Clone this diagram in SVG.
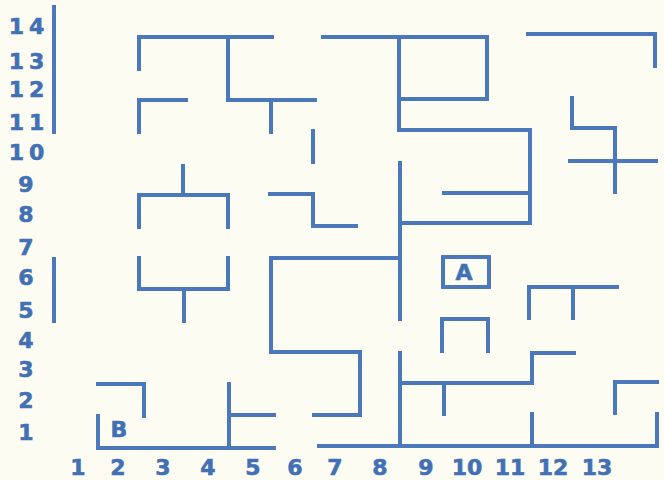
<svg xmlns="http://www.w3.org/2000/svg" width="664" height="480" viewBox="0 0 664 480">
<style>
.w{fill:none;stroke:#4a78ba;stroke-width:4;stroke-linecap:square;stroke-linejoin:miter}
.t{font-family:"DejaVu Sans",sans-serif;font-weight:bold;font-size:22px;fill:#4270b4;stroke:#4270b4;stroke-width:0.6;text-anchor:middle}
</style>
<rect width="664" height="480" fill="#fdfcf3"/>
<g id="walls" class="w">
<path d="M54 7V132"/>
<path d="M54 259V321"/>
<path d="M139 69V37H272M228 37V100H315M271 100V132"/>
<path d="M139 132V100H186"/>
<path d="M313 131V162"/>
<path d="M183 166V195M139 227V195H228V227"/>
<path d="M270 194H313V226H356"/>
<path d="M323 37H487V99H399M399 37V130H530V223H400M444 193H530"/>
<path d="M400 163V319"/>
<path d="M528 34H655V66"/>
<path d="M572 98V128H615V192M570 161H656"/>
<path d="M139 258V289H228V258M184 289V321"/>
<path d="M400 258H271V352H360V415H314"/>
<path d="M442 351V319H488V351"/>
<path d="M529 318V287H617M573 287V318"/>
<path d="M98 384H144V416"/>
<path d="M98 416V448H274M229 384V448M229 415H274"/>
<path d="M319 446H657V414M400 353V446M400 383H532V353H574M444 383V414M532 414V446"/>
<path d="M615 413V382H657"/>
</g>
<g id="A">
<rect class="w" x="443" y="257" width="46" height="30"/>
<text class="t" x="464" y="280">A</text>
</g>
<g id="B">
<text class="t" x="119" y="437">B</text>
</g>
<g id="yaxis" class="t">
<text x="29" y="34" letter-spacing="5">14</text>
<text x="29" y="69" letter-spacing="5">13</text>
<text x="29" y="97" letter-spacing="5">12</text>
<text x="29" y="130" letter-spacing="5">11</text>
<text x="29" y="160" letter-spacing="5">10</text>
<text x="26" y="192">9</text>
<text x="26" y="222">8</text>
<text x="26" y="255">7</text>
<text x="26" y="285">6</text>
<text x="26" y="318">5</text>
<text x="26" y="348">4</text>
<text x="26" y="377">3</text>
<text x="26" y="408">2</text>
<text x="26" y="440">1</text>
</g>
<g id="xaxis" class="t">
<text x="78" y="475">1</text>
<text x="118" y="475">2</text>
<text x="163" y="475">3</text>
<text x="208" y="475">4</text>
<text x="253" y="475">5</text>
<text x="295" y="475">6</text>
<text x="335" y="475">7</text>
<text x="380" y="475">8</text>
<text x="426" y="475">9</text>
<text x="467" y="475">10</text>
<text x="510" y="475">11</text>
<text x="553" y="475">12</text>
<text x="597" y="475">13</text>
</g>
</svg>
